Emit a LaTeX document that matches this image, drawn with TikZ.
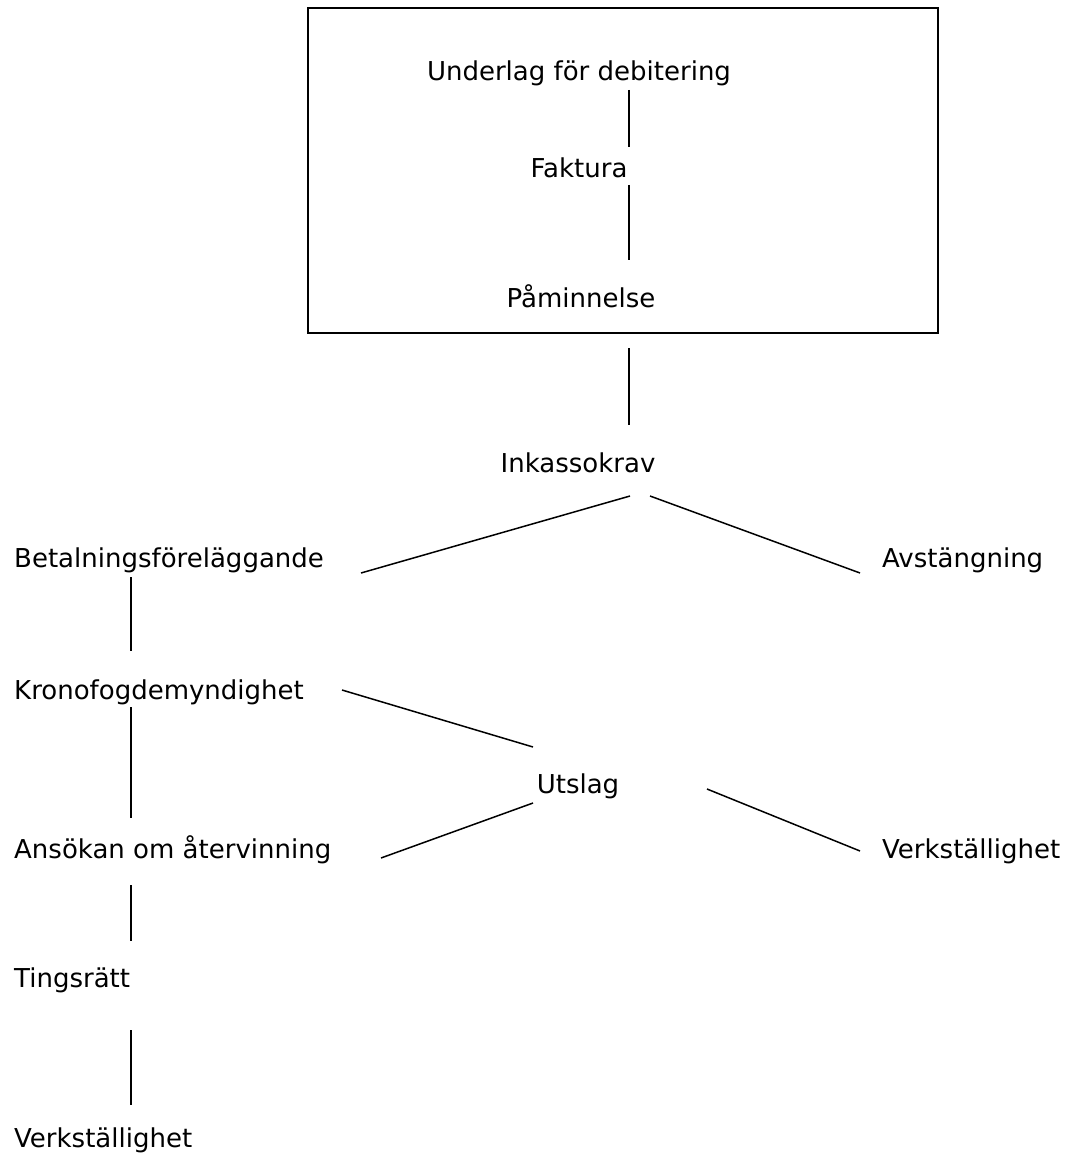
\documentclass[tikz,border=0pt]{standalone}
\usepackage{fontspec}
\setmainfont{DejaVu Sans}
\usepackage{tikz}
\usetikzlibrary{positioning}

\tikzset{
    lbl/.style={inner sep=0pt, font=\fontsize{26}{30}\selectfont},
    mid/.style={lbl, anchor=base},
    lft/.style={lbl, anchor=base west},
    link/.style={line width=1.5pt},
}

\begin{document}
\begin{tikzpicture}[x=1pt, y=-1pt]
            \useasboundingbox (0,0) rectangle (1071,1158);

            % the billing box
            \draw[line width=2pt] (308,8) rectangle (938,333);
            \node[mid] (und) at (579,81) {Underlag för debitering};
            \node[mid] (fak) at (579,178) {Faktura};
            \node[mid] (pam) at (581,307) {Påminnelse};

            \node[mid] (ink) at (578,472) {Inkassokrav};
            \node[lft] (bet) at (14,567) {Betalningsföreläggande};
            \node[lft] (avs) at (882,567) {Avstängning};
            \node[lft] (kro) at (14,699) {Kronofogdemyndighet};
            \node[mid] (uts) at (578,793) {Utslag};
            \node[lft] (ans) at (14,858) {Ansökan om återvinning};
            \node[lft] (ver1) at (882,858) {Verkställighet};
            \node[lft] (tin) at (14,987) {Tingsrätt};
            \node[lft] (ver2) at (14,1147) {Verkställighet};

            % line ends
            \coordinate (und-s) at (629,90);    \coordinate (fak-n) at (629,147);
            \coordinate (fak-s) at (629,185);   \coordinate (pam-n) at (629,260);
            \coordinate (box-s) at (629,348);   \coordinate (ink-n) at (629,425);
            \coordinate (ink-sw) at (630,496);  \coordinate (bet-e) at (361,573);
            \coordinate (ink-se) at (650,496);  \coordinate (avs-w) at (860,573);
            \coordinate (bet-s) at (131,577);   \coordinate (kro-n) at (131,651);
            \coordinate (kro-e) at (342,690);   \coordinate (uts-nw) at (533,747);
            \coordinate (uts-sw) at (533,803);  \coordinate (ans-e) at (381,858);
            \coordinate (uts-e) at (707,789);   \coordinate (ver1-w) at (860,851);
            \coordinate (kro-s) at (131,707);   \coordinate (ans-n) at (131,818);
            \coordinate (ans-s) at (131,885);   \coordinate (tin-n) at (131,941);
            \coordinate (tin-s) at (131,1030);  \coordinate (ver2-n) at (131,1105);

            \draw[link] (und-s) edge (fak-n)
                    (fak-s) edge (pam-n)
                    (box-s) edge (ink-n)

                    (ink-sw) edge (bet-e)
                    (ink-se) edge (avs-w)

                    (bet-s) edge (kro-n)
                    (kro-e) edge (uts-nw)
                    (kro-s) edge (ans-n)

                    (uts-sw) edge (ans-e)
                    (uts-e) edge (ver1-w)

                    (ans-s) edge (tin-n)
                    (tin-s) edge (ver2-n)
                    ;
        \end{tikzpicture}
\end{document}
